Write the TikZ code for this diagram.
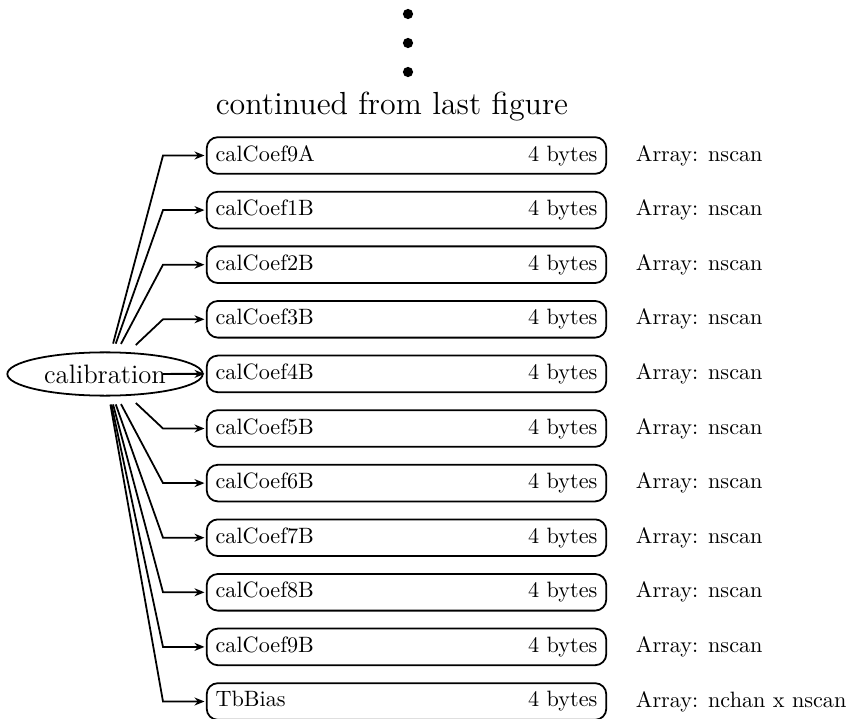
\documentclass[tikz,border=0pt]{standalone}
\usetikzlibrary{arrows.meta,shapes.geometric}
\begin{document}
\begin{tikzpicture}[x=0.4505pt,y=-0.4505pt, line width=0.8pt,
  field/.style={draw, rounded corners=5pt, minimum width=180pt, minimum height=16.5pt,
    inner xsep=4pt, inner ysep=0pt, text width=172pt, font=\normalsize},
  conn/.style={-{Stealth[length=4.5pt,width=3.6pt]}, shorten >=0.6pt},
  info/.style={anchor=west, inner sep=0pt},
  dotmark/.style={fill=black, draw=none}]
\useasboundingbox (0,0) rectangle (849,719);
\fill[dotmark] (408,14) circle (2.3pt);
\fill[dotmark] (408,43) circle (2.3pt);
\fill[dotmark] (408,72) circle (2.3pt);
\node (cont) at (392,107) {\Large continued from last figure};
\node[draw, ellipse, minimum width=88pt, minimum height=19.5pt, inner sep=0pt,
  outer xsep=0.4pt, outer ysep=4pt] (cal) at (105,374) {\large calibration};
\foreach \name/\arr [count=\i from 0] in {calCoef9A/nscan, calCoef1B/nscan, calCoef2B/nscan, calCoef3B/nscan, calCoef4B/nscan, calCoef5B/nscan, calCoef6B/nscan, calCoef7B/nscan, calCoef8B/nscan, calCoef9B/nscan, TbBias/nchan x nscan} {
  \pgfmathsetmacro\yy{155.5+54.6*\i}
  \node[field] (f\i) at (406.5,\yy) {\name\hfill 4 bytes};
  \coordinate (k\i) at (163,\yy);
  \draw[conn] (cal) -- (k\i) -- (f\i.west);
  \node[info] (r\i) at (635,\yy) {Array: \arr};
}
\end{tikzpicture}
\end{document}
